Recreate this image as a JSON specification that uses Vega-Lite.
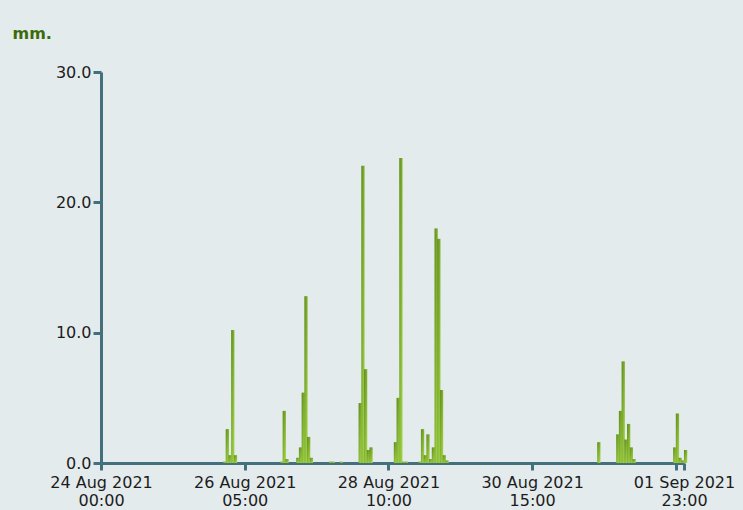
{
  "$schema": "https://vega.github.io/schema/vega-lite/v6.json",
  "width": 583,
  "height": 391,
  "autosize": {"type": "none"},
  "padding": {"left": 101, "top": 72, "right": 59, "bottom": 47},
  "background": "#e4ebed",
  "config": {"view": {"stroke": null}, "font": "DejaVu Sans"},
  "data": {"values": [
    {"t": "2021-08-25T21:00:00", "mm": 0.1},
    {"t": "2021-08-25T22:00:00", "mm": 2.6},
    {"t": "2021-08-25T23:00:00", "mm": 0.6},
    {"t": "2021-08-26T00:00:00", "mm": 10.2},
    {"t": "2021-08-26T01:00:00", "mm": 0.6},
    {"t": "2021-08-26T18:00:00", "mm": 0.1},
    {"t": "2021-08-26T19:00:00", "mm": 4.0},
    {"t": "2021-08-26T20:00:00", "mm": 0.3},
    {"t": "2021-08-27T00:00:00", "mm": 0.4},
    {"t": "2021-08-27T01:00:00", "mm": 1.2},
    {"t": "2021-08-27T02:00:00", "mm": 5.4},
    {"t": "2021-08-27T03:00:00", "mm": 12.8},
    {"t": "2021-08-27T04:00:00", "mm": 2.0},
    {"t": "2021-08-27T05:00:00", "mm": 0.4},
    {"t": "2021-08-27T12:00:00", "mm": 0.1},
    {"t": "2021-08-27T13:00:00", "mm": 0.1},
    {"t": "2021-08-27T16:00:00", "mm": 0.1},
    {"t": "2021-08-27T23:00:00", "mm": 4.6},
    {"t": "2021-08-28T00:00:00", "mm": 22.8},
    {"t": "2021-08-28T01:00:00", "mm": 7.2},
    {"t": "2021-08-28T02:00:00", "mm": 1.0},
    {"t": "2021-08-28T03:00:00", "mm": 1.2},
    {"t": "2021-08-28T12:00:00", "mm": 1.6},
    {"t": "2021-08-28T13:00:00", "mm": 5.0},
    {"t": "2021-08-28T14:00:00", "mm": 23.4},
    {"t": "2021-08-28T15:00:00", "mm": 0.1},
    {"t": "2021-08-28T16:00:00", "mm": 0.1},
    {"t": "2021-08-28T21:00:00", "mm": 0.1},
    {"t": "2021-08-28T22:00:00", "mm": 2.6},
    {"t": "2021-08-28T23:00:00", "mm": 0.6},
    {"t": "2021-08-29T00:00:00", "mm": 2.2},
    {"t": "2021-08-29T01:00:00", "mm": 0.3},
    {"t": "2021-08-29T02:00:00", "mm": 1.2},
    {"t": "2021-08-29T03:00:00", "mm": 18.0},
    {"t": "2021-08-29T04:00:00", "mm": 17.2},
    {"t": "2021-08-29T05:00:00", "mm": 5.6},
    {"t": "2021-08-29T06:00:00", "mm": 0.6},
    {"t": "2021-08-29T07:00:00", "mm": 0.2},
    {"t": "2021-08-31T15:00:00", "mm": 1.6},
    {"t": "2021-08-31T22:00:00", "mm": 2.2},
    {"t": "2021-08-31T23:00:00", "mm": 4.0},
    {"t": "2021-09-01T00:00:00", "mm": 7.8},
    {"t": "2021-09-01T01:00:00", "mm": 1.8},
    {"t": "2021-09-01T02:00:00", "mm": 3.0},
    {"t": "2021-09-01T03:00:00", "mm": 1.2},
    {"t": "2021-09-01T04:00:00", "mm": 0.3},
    {"t": "2021-09-01T19:00:00", "mm": 1.2},
    {"t": "2021-09-01T20:00:00", "mm": 3.8},
    {"t": "2021-09-01T21:00:00", "mm": 0.4},
    {"t": "2021-09-01T22:00:00", "mm": 0.2},
    {"t": "2021-09-01T23:00:00", "mm": 1.0}
  ]},
  "mark": {
    "type": "bar",
    "size": 3.3,
    "xOffset": 1.6,
    "color": {
      "gradient": "linear",
      "x1": 0, "y1": 0, "x2": 1, "y2": 1,
      "stops": [
        {"offset": 0, "color": "#5e8c1a"},
        {"offset": 1, "color": "#aadb4e"}
      ]
    }
  },
  "encoding": {
    "x": {
      "field": "t",
      "type": "temporal",
      "scale": {
        "domain": [
          {"year": 2021, "month": 8, "date": 24, "hours": 0},
          {"year": 2021, "month": 9, "date": 1, "hours": 23}
        ],
        "nice": false,
        "padding": 0
      },
      "axis": {
        "title": null,
        "grid": false,
        "values": [
          {"year": 2021, "month": 8, "date": 24, "hours": 0},
          {"year": 2021, "month": 8, "date": 26, "hours": 5},
          {"year": 2021, "month": 8, "date": 28, "hours": 10},
          {"year": 2021, "month": 8, "date": 30, "hours": 15},
          {"year": 2021, "month": 9, "date": 1, "hours": 20},
          {"year": 2021, "month": 9, "date": 1, "hours": 23}
        ],
        "labelExpr": "hours(datum.value) == 20 ? '' : [timeFormat(datum.value, '%d %b %Y'), timeFormat(datum.value, '%H:%M')]",
        "labelFont": "DejaVu Sans",
        "labelFontSize": 16,
        "labelColor": "#1c1c1c",
        "labelPadding": 4,
        "labelLineHeight": 18,
        "labelOverlap": false,
        "labelFlush": false,
        "domainColor": "#44707e",
        "domainWidth": 3,
        "tickColor": "#44707e",
        "tickWidth": 3,
        "tickSize": 7
      }
    },
    "y": {
      "field": "mm",
      "type": "quantitative",
      "scale": {"domain": [0, 30], "nice": false},
      "axis": {
        "title": "mm.",
        "titleAngle": 0,
        "titleX": -89,
        "titleY": -39,
        "titleAlign": "left",
        "titleBaseline": "middle",
        "titleFont": "DejaVu Sans",
        "titleFontSize": 16,
        "titleFontWeight": "bold",
        "titleColor": "#3b6b0a",
        "grid": false,
        "values": [0, 10, 20, 30],
        "format": ".1f",
        "labelFont": "DejaVu Sans",
        "labelFontSize": 16,
        "labelColor": "#1c1c1c",
        "labelPadding": 2,
        "domainColor": "#44707e",
        "domainWidth": 3,
        "tickColor": "#44707e",
        "tickWidth": 3,
        "tickSize": 8
      }
    }
  }
}
